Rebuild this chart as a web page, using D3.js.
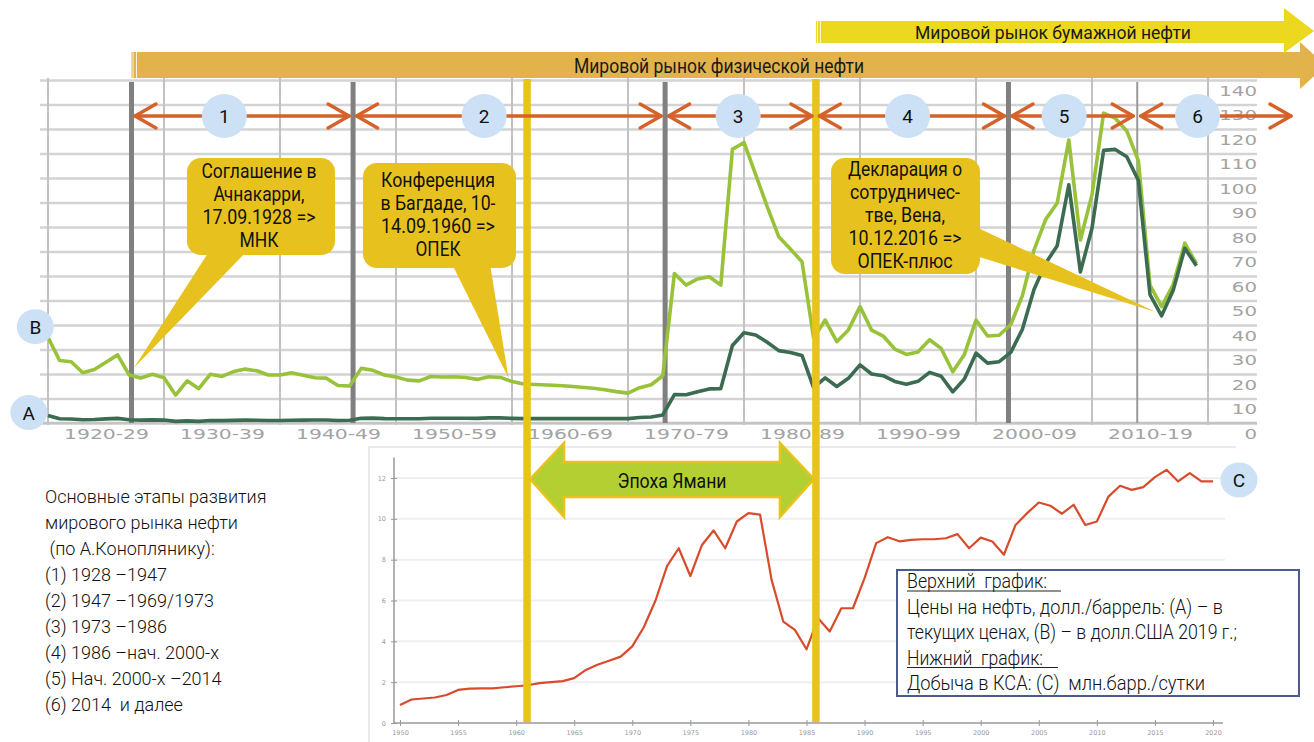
<!DOCTYPE html>
<html lang="ru">
<head>
<meta charset="utf-8">
<title>Мировой рынок нефти</title>
<script src="https://cdn.jsdelivr.net/npm/d3@7"></script>
<style>
  html, body { margin: 0; padding: 0; background: #fff; }
  svg { display: block; }
  text { font-family: Roboto, "Noto Sans", sans-serif; }
</style>
</head>
<body>
<svg id="chart" width="1314" height="742"></svg>
<script>
// ---- data ----

// upper chart: oil price, $/bbl, 1920..2019
var priceStart = 1920;
// (A) money of the day
var priceA = [3.07, 1.73, 1.61, 1.34, 1.43, 1.68, 1.88, 1.30, 1.17, 1.27,
              1.19, 0.65, 0.87, 0.67, 1.00, 0.97, 1.09, 1.18, 1.13, 1.02,
              1.02, 1.14, 1.19, 1.20, 1.21, 1.05, 1.12, 1.90, 1.99, 1.78,
              1.71, 1.71, 1.71, 1.93, 1.93, 1.93, 1.93, 1.90, 2.08, 2.08,
              1.90, 1.80, 1.80, 1.80, 1.80, 1.80, 1.80, 1.80, 1.80, 1.80,
              1.80, 2.24, 2.48, 3.29, 11.58, 11.53, 12.80, 13.92, 14.02, 31.61,
              36.83, 35.93, 32.97, 29.55, 28.78, 27.56, 14.43, 18.44, 14.92, 18.23,
              23.73, 20.00, 19.32, 16.97, 15.82, 17.02, 20.67, 19.09, 12.72, 17.97,
              28.50, 24.44, 25.02, 28.83, 38.27, 54.52, 65.14, 72.39, 97.26, 61.67,
              79.50, 111.26, 111.67, 108.66, 98.95, 52.39, 43.73, 54.19, 71.31, 64.21];
// (B) 2019 dollars
var priceB = [35.0, 25.5, 25.0, 20.5, 21.8, 24.8, 27.8, 19.6, 18.4, 19.9,
              18.5, 11.4, 17.2, 14.0, 19.9, 19.0, 21.0, 22.0, 21.3, 19.6,
              19.6, 20.5, 19.5, 18.5, 18.3, 15.3, 15.1, 22.3, 21.5, 19.6,
              18.8, 17.5, 17.2, 19.0, 18.8, 18.9, 18.6, 17.8, 18.9, 18.6,
              16.9, 15.9, 15.7, 15.5, 15.3, 15.0, 14.6, 14.2, 13.6, 12.8,
              12.2, 14.4, 15.6, 19.3, 61.0, 56.3, 58.8, 59.7, 56.3, 111.7,
              114.5, 101.5, 88.3, 76.0, 71.0, 65.8, 34.7, 42.0, 33.2, 38.0,
              47.5, 37.9, 35.5, 30.2, 28.0, 29.0, 34.0, 30.4, 20.9, 28.0,
              42.0, 35.5, 35.8, 40.2, 52.0, 70.6, 83.0, 89.8, 115.5, 74.7,
              93.2, 126.5, 124.4, 119.2, 107.0, 56.3, 47.5, 56.5, 73.4, 65.0];

// lower chart: (C) Saudi Arabia output, mb/d, 1950..2020
var prodStart = 1950;
var prodC = [0.88, 1.15, 1.20, 1.25, 1.37, 1.62, 1.68, 1.70, 1.70, 1.75,
             1.80, 1.85, 1.95, 2.00, 2.05, 2.20, 2.60, 2.85, 3.05, 3.25,
             3.75, 4.70, 6.00, 7.70, 8.56, 7.20, 8.72, 9.43, 8.56, 9.87,
             10.28, 10.21, 7.00, 4.97, 4.56, 3.61, 5.13, 4.48, 5.62, 5.62,
             7.10, 8.81, 9.10, 8.90, 8.97, 9.00, 9.00, 9.05, 9.25, 8.56,
             9.08, 8.89, 8.24, 9.70, 10.28, 10.80, 10.64, 10.25, 10.69, 9.70,
             9.87, 11.09, 11.62, 11.42, 11.55, 12.04, 12.40, 11.83, 12.24, 11.83,
             11.83];

var decadeYears  = [1920, 1930, 1940, 1950, 1960, 1970, 1980, 1990, 2000, 2010, 2020];
var decadeLabels = ['1920-29', '1930-39', '1940-49', '1950-59', '1960-69',
                    '1970-79', '1980-89', '1990-99', '2000-09', '2010-19'];
var priceTicks = [0, 10, 20, 30, 40, 50, 60, 70, 80, 90, 100, 110, 120, 130, 140];
var prodTicks = [0, 2, 4, 6, 8, 10, 12];
var prodYearTicks = [1950, 1955, 1960, 1965, 1970, 1975, 1980, 1985, 1990, 1995, 2000, 2005, 2010, 2015, 2020];

// stage boundaries as drawn on the picture
var periodLines  = [1927.2, 1946.3, 1973.2, 2002.8, 2013.9];
var yamaniYears  = [1961.3, 1986.2];
var periodBounds = [1927.2, 1946.3, 1973.2, 1986.2, 2002.8, 2013.9, 2027.5];
var periodBadges = [1935.2, 1957.6, 1979.5, 1994.1, 2007.6, 2019.1];
var periodNames  = ['1', '2', '3', '4', '5', '6'];

var stageText = ['Основные этапы развития', 'мирового рынка нефти', ' (по А.Коноплянику):',
                 '(1) 1928 –1947', '(2) 1947 –1969/1973', '(3) 1973 –1986',
                 '(4) 1986 –нач. 2000-х', '(5) Нач. 2000-х –2014', '(6) 2014  и далее'];

var legendText = ['Верхний  график:', 'Цены на нефть, долл./баррель: (А) – в',
                  'текущих ценах, (В) – в долл.США 2019 г.;', 'Нижний  график:',
                  'Добыча в КСА: (С)  млн.барр./сутки'];

// ---- chart ----
var W = 1314, H = 742;
var svg = d3.select('#chart');
svg.append('rect').attr('width', W).attr('height', H).attr('fill', '#fff');

var xTop = d3.scaleLinear().domain([1920, 2020]).range([48, 1208]);
var yTop = d3.scaleLinear().domain([0, 140]).range([423, 80]);
var xLow = d3.scaleLinear().domain([1950, 2020]).range([400, 1213]);
var yLow = d3.scaleLinear().domain([0, 12]).range([723, 478]);

function fit(sel, w) {
  return sel.attr('textLength', w).attr('lengthAdjust', 'spacingAndGlyphs');
}

// upper grid: horizontal lines + right labels
var gy = svg.append('g')
  .attr('transform', 'translate(1257,0)')
  .call(d3.axisRight(yTop).tickValues(priceTicks).tickSize(-1217).tickFormat(d3.format('d')));
gy.select('.domain').remove();
gy.selectAll('.tick line').attr('stroke', '#d3d3d3').attr('stroke-width', 2.6);
gy.selectAll('.tick text')
  .attr('x', 0).attr('dy', 0).attr('y', 15)
  .attr('text-anchor', 'end')
  .attr('fill', '#a3a3a3')
  .style('font-family', '"DejaVu Sans", sans-serif')
  .style('font-size', '13.5px')
  .each(function (d) { fit(d3.select(this), String(d).length * 12.6); });

// vertical decade lines
svg.append('g').selectAll('line')
  .data(decadeYears).join('line')
  .attr('x1', function (d) { return xTop(d); })
  .attr('x2', function (d) { return xTop(d); })
  .attr('y1', 78).attr('y2', 425)
  .attr('stroke', '#c2c2c2').attr('stroke-width', 2);

// bottom axis line
svg.append('line')
  .attr('x1', 40).attr('x2', 1257).attr('y1', yTop(0)).attr('y2', yTop(0))
  .attr('stroke', '#c4c4c4').attr('stroke-width', 2.6);

// decade labels
var gx = svg.append('g')
  .attr('transform', 'translate(0,' + yTop(0) + ')')
  .call(d3.axisBottom(xTop)
    .tickValues(decadeYears.slice(0, -1).map(function (d) { return d + 5; }))
    .tickSize(0)
    .tickFormat(function (d, i) { return decadeLabels[i]; }));
gx.select('.domain').remove();
gx.selectAll('.tick text')
  .attr('y', 16).attr('dy', 0)
  .attr('fill', '#a3a3a3')
  .style('font-family', '"DejaVu Sans", sans-serif')
  .style('font-size', '13.5px')
  .each(function () { fit(d3.select(this), 85); });

// ---- lower chart ----
svg.append('path')
  .attr('d', 'M369,742V447H1236')
  .attr('fill', 'none').attr('stroke', '#e4e4e4').attr('stroke-width', 1.5);

svg.append('g').selectAll('line')
  .data(prodTicks.slice(1)).join('line')
  .attr('x1', 394).attr('x2', 1225)
  .attr('y1', function (d) { return yLow(d); })
  .attr('y2', function (d) { return yLow(d); })
  .attr('stroke', '#efefef').attr('stroke-width', 2);

var ly = svg.append('g')
  .attr('transform', 'translate(394,0)')
  .call(d3.axisLeft(yLow).tickValues(prodTicks).tickSize(3).tickPadding(5));
ly.select('.domain').remove();
ly.selectAll('.tick line').attr('stroke', '#999').attr('x1', 3).attr('x2', -3);
ly.selectAll('.tick text').attr('fill', '#999')
  .style('font-family', '"DejaVu Sans", sans-serif').style('font-size', '6.5px');
svg.append('line')
  .attr('x1', 394).attr('x2', 394).attr('y1', yLow(13)).attr('y2', yLow(0))
  .attr('stroke', '#9a9a9a').attr('stroke-width', 1.5);

var lx = svg.append('g')
  .attr('transform', 'translate(0,' + yLow(0) + ')')
  .call(d3.axisBottom(xLow).tickValues(prodYearTicks).tickSize(3).tickPadding(4).tickFormat(d3.format('d')));
lx.select('.domain').remove();
lx.selectAll('.tick line').attr('stroke', '#999').attr('y1', -3).attr('y2', 3);
lx.selectAll('.tick text').attr('fill', '#999')
  .style('font-family', '"DejaVu Sans", sans-serif').style('font-size', '6.5px');
svg.append('line')
  .attr('x1', 394).attr('x2', 1223).attr('y1', yLow(0)).attr('y2', yLow(0))
  .attr('stroke', '#9a9a9a').attr('stroke-width', 1.5);

var prodLine = d3.line()
  .x(function (d, i) { return xLow(prodStart + i); })
  .y(function (d) { return yLow(d); });
svg.append('path')
  .datum(prodC)
  .attr('d', prodLine)
  .attr('fill', 'none').attr('stroke', '#d84b2b').attr('stroke-width', 2.2)
  .attr('stroke-linejoin', 'round');

// ---- stage lines ----
svg.append('g').selectAll('line')
  .data(periodLines).join('line')
  .attr('x1', function (d) { return xTop(d); })
  .attr('x2', function (d) { return xTop(d); })
  .attr('y1', 82).attr('y2', 423)
  .attr('stroke', function (d, i) { return i === 4 ? '#9a9a9a' : '#808080'; })
  .attr('stroke-width', function (d, i) { return i === 4 ? 2 : 5; });

// ---- price lines ----
var priceLine = d3.line()
  .x(function (d, i) { return xTop(priceStart + i); })
  .y(function (d) { return yTop(d); });
svg.append('path')
  .datum(priceB)
  .attr('d', priceLine)
  .attr('fill', 'none').attr('stroke', '#98c23a').attr('stroke-width', 3.6)
  .attr('stroke-linejoin', 'round');
svg.append('path')
  .datum(priceA)
  .attr('d', priceLine)
  .attr('fill', 'none').attr('stroke', '#3b6b50').attr('stroke-width', 3.6)
  .attr('stroke-linejoin', 'round');

// ---- Yamani lines ----
svg.append('g').selectAll('line')
  .data(yamaniYears).join('line')
  .attr('x1', function (d) { return xTop(d); })
  .attr('x2', function (d) { return xTop(d); })
  .attr('y1', 79).attr('y2', 722)
  .attr('stroke', '#e8c31b').attr('stroke-width', 7.5);

// ---- top bars ----
var xPhys = xTop(periodLines[0]);
svg.append('path')
  .attr('d', 'M' + xPhys + ',52H1300V42L1326,65.5L1300,89V78H' + xPhys + 'Z')
  .attr('fill', '#e2b34b');
[xPhys + 1.5, xPhys + 5].forEach(function (x) {
  svg.append('line').attr('x1', x).attr('x2', x).attr('y1', 52).attr('y2', 78)
    .attr('stroke', '#fff').attr('stroke-width', 1).attr('opacity', 0.85);
});
fit(svg.append('text')
  .attr('x', 574).attr('y', 73)
  .style('font-size', '21px').attr('fill', '#1a1a1a')
  .text('Мировой рынок физической нефти'), 290);

var xPaper = xTop(yamaniYears[1]);
svg.append('path')
  .attr('d', 'M' + xPaper + ',21H1284V8L1314,31L1284,53V43H' + xPaper + 'Z')
  .attr('fill', '#ecd81e');
[xPaper + 1.5, xPaper + 4.5].forEach(function (x) {
  svg.append('line').attr('x1', x).attr('x2', x).attr('y1', 21).attr('y2', 43)
    .attr('stroke', '#fff').attr('stroke-width', 1).attr('opacity', 0.85);
});
fit(svg.append('text')
  .attr('x', 915).attr('y', 38.5)
  .style('font-size', '19px').attr('fill', '#1a1a1a')
  .text('Мировой рынок бумажной нефти'), 276);

// ---- stage arrows ----
var arrowY = 116, arrowColor = '#d4622a';
var ga = svg.append('g')
  .attr('stroke', arrowColor).attr('stroke-width', 3.5)
  .attr('fill', 'none').attr('stroke-linecap', 'round').attr('stroke-linejoin', 'round');
d3.range(6).forEach(function (i) {
  var x1 = xTop(periodBounds[i]) + 3.5, x2 = xTop(periodBounds[i + 1]) - 4;
  ga.append('line').attr('x1', x1).attr('x2', x2).attr('y1', arrowY).attr('y2', arrowY);
  ga.append('path').attr('d', 'M' + (x1 + 21) + ',' + (arrowY - 12) + 'L' + x1 + ',' + arrowY + 'L' + (x1 + 21) + ',' + (arrowY + 12));
  ga.append('path').attr('d', 'M' + (x2 - 21) + ',' + (arrowY - 12) + 'L' + x2 + ',' + arrowY + 'L' + (x2 - 21) + ',' + (arrowY + 12));
});
var gb = svg.append('g').selectAll('g')
  .data(periodBadges).join('g')
  .attr('transform', function (d) { return 'translate(' + xTop(d) + ',' + arrowY + ')'; });
gb.append('ellipse').attr('rx', 22.5).attr('ry', 22).attr('fill', '#cce1f5');
gb.append('text')
  .attr('text-anchor', 'middle').attr('y', 7)
  .style('font-size', '19px').attr('fill', '#111')
  .text(function (d, i) { return periodNames[i]; });

// ---- callouts ----
var callouts = [
  { lines: ['Соглашение в', 'Ачнакарри,', '17.09.1928 =>', 'МНК'],
    widths: [115, 91, 113, 39], box: [187, 158, 335, 255], cx: 259, y0: 178,
    base: [[210, 250], [248, 250]], tip: [1927.4, 22.4] },
  { lines: ['Конференция', 'в Багдаде, 10-', '14.09.1960 =>', 'ОПЕК'],
    widths: [114, 115, 114, 45], box: [363, 163, 516, 268], cx: 438, y0: 187,
    base: [[452, 264], [490, 264]], tip: [1959.7, 18.4] },
  { lines: ['Декларация о', 'сотрудничес-', 'тве, Вена,', '10.12.2016 =>', 'ОПЕК-плюс'],
    widths: [114, 110, 80, 113, 95], box: [831, 158, 980, 274], cx: 905, y0: 176,
    base: [[976, 227], [976, 256]], tip: [2015.5, 45.3] }
];
var calloutFill = '#e7c21f';
callouts.forEach(function (c) {
  var g = svg.append('g');
  g.append('rect')
    .attr('x', c.box[0]).attr('y', c.box[1])
    .attr('width', c.box[2] - c.box[0]).attr('height', c.box[3] - c.box[1])
    .attr('rx', 14).attr('fill', calloutFill);
  g.append('path')
    .attr('d', 'M' + c.base[0] + 'L' + xTop(c.tip[0]) + ',' + yTop(c.tip[1]) + 'L' + c.base[1] + 'Z')
    .attr('fill', calloutFill);
  c.lines.forEach(function (t, i) {
    fit(g.append('text')
      .attr('x', c.cx).attr('y', c.y0 + i * 23)
      .attr('text-anchor', 'middle')
      .style('font-size', '20px').attr('fill', '#111')
      .text(t), c.widths[i]);
  });
});

// ---- Yamani era arrow ----
var yl = xTop(yamaniYears[0]) + 3, yr = xTop(yamaniYears[1]) - 2, ym = 479;
svg.append('path')
  .attr('d', 'M' + yl + ',' + ym + 'L' + (yl + 34) + ',' + (ym - 36) + 'V' + (ym - 17) +
             'H' + (yr - 34) + 'V' + (ym - 36) + 'L' + yr + ',' + ym + 'L' + (yr - 34) + ',' + (ym + 38) +
             'V' + (ym + 18) + 'H' + (yl + 34) + 'V' + (ym + 38) + 'Z')
  .attr('fill', '#b4cf32').attr('stroke', '#e8c31b').attr('stroke-width', 2.5)
  .attr('stroke-linejoin', 'miter');
fit(svg.append('text')
  .attr('x', (yl + yr) / 2).attr('y', 487.5).attr('text-anchor', 'middle')
  .style('font-size', '20px').attr('fill', '#111')
  .text('Эпоха Ямани'), 109);

// ---- series badges ----
var badges = [
  { t: 'B', x: 35.3, y: 326.7 },
  { t: 'A', x: 28.8, y: 412.5 },
  { t: 'C', x: 1239, y: 480 }
];
var gs = svg.append('g').selectAll('g')
  .data(badges).join('g')
  .attr('transform', function (d) { return 'translate(' + d.x + ',' + d.y + ')'; });
gs.append('ellipse').attr('rx', 18.5).attr('ry', 17.5).attr('fill', '#cce1f5');
gs.append('text')
  .attr('text-anchor', 'middle').attr('y', 7)
  .style('font-size', '19px').attr('fill', '#111')
  .text(function (d) { return d.t; });

// ---- legend box ----
svg.append('rect')
  .attr('x', 897).attr('y', 570).attr('width', 402).attr('height', 126)
  .attr('fill', '#fff').attr('stroke', '#4a5b8c').attr('stroke-width', 2);
var legendW = [140, 316, 330, 136, 298];
legendText.forEach(function (t, i) {
  fit(svg.append('text')
    .attr('x', 907).attr('y', 588 + i * 25.5)
    .style('font-size', '20px').style('font-weight', 300).attr('fill', '#111')
    .style('white-space', 'pre')
    .text(t), legendW[i]);
});
[[588, 1061], [664.5, 1058]].forEach(function (u) {
  svg.append('line').attr('x1', 907).attr('x2', u[1]).attr('y1', u[0] + 3).attr('y2', u[0] + 3)
    .attr('stroke', '#222').attr('stroke-width', 1.2);
});

// ---- stages text ----
stageText.forEach(function (t, i) {
  svg.append('text')
    .attr('x', 45).attr('y', 503 + i * 26)
    .style('font-size', '18px').style('font-weight', 300).attr('fill', '#111')
    .style('white-space', 'pre')
    .text(t);
});
</script>
</body>
</html>
